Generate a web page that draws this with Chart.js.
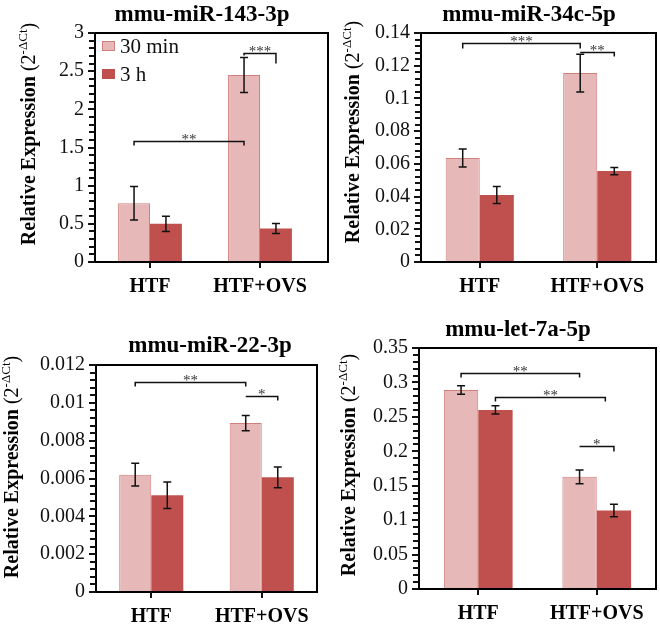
<!DOCTYPE html>
<html>
<head>
<meta charset="utf-8">
<script src="https://cdn.jsdelivr.net/npm/chart.js@4.4.1/dist/chart.umd.min.js"></script>
<style>
  body { margin: 0; background: #fff; }
  #wrap { position: relative; width: 660px; height: 626px; }
  canvas { position: absolute; }
</style>
</head>
<body>
<div id="wrap">
  <canvas id="c1" width="330" height="313" style="left:0;top:0"></canvas>
  <canvas id="c2" width="330" height="313" style="left:330px;top:0"></canvas>
  <canvas id="c3" width="330" height="313" style="left:0;top:313px"></canvas>
  <canvas id="c4" width="330" height="313" style="left:330px;top:313px"></canvas>
</div>
<script>
// categories and series
const categories = ['HTF', 'HTF+OVS']
const seriesNames = ['30 min', '3 h']
const titles = ['mmu-miR-143-3p', 'mmu-miR-34c-5p', 'mmu-miR-22-3p', 'mmu-let-7a-5p']

// mmu-miR-143-3p
const mir143_30min = [0.77, 2.45]
const mir143_3h = [0.50, 0.44]
const mir143_err30 = [0.22, 0.23]
const mir143_err3h = [0.10, 0.065]

// mmu-miR-34c-5p
const mir34c_30min = [0.0636, 0.1155]
const mir34c_3h = [0.041, 0.0556]
const mir34c_err30 = [0.0055, 0.0115]
const mir34c_err3h = [0.0052, 0.0022]

// mmu-miR-22-3p
const mir22_30min = [0.0062, 0.00893]
const mir22_3h = [0.00511, 0.00606]
const mir22_err30 = [0.0006, 0.0004]
const mir22_err3h = [0.0007, 0.00055]

// mmu-let-7a-5p
const let7a_30min = [0.289, 0.163]
const let7a_3h = [0.26, 0.114]
const let7a_err30 = [0.006, 0.01]
const let7a_err3h = [0.006, 0.009]

// y axis: max, major step, minor step
const yMax = [3, 0.14, 0.012, 0.35]
const yMajor = [0.5, 0.02, 0.002, 0.05]
const yMinor = [0.1, 0.004, 0.0004, 0.01]

// significance brackets: [category, series] at both ends, height in data units
const mir143_sig = [
  { from: [0, 0], to: [1, 0], y: 1.585, label: '**' },
  { from: [1, 0], to: [1, 1], y: 2.74, label: '***' }
]
const mir34c_sig = [
  { from: [0, 0], to: [1, 0], y: 0.1339, label: '***' },
  { from: [1, 0], to: [1, 1], y: 0.1284, label: '**' }
]
const mir22_sig = [
  { from: [0, 0], to: [1, 0], y: 0.0111, label: '**' },
  { from: [1, 0], to: [1, 1], y: 0.01038, label: '*' }
]
const let7a_sig = [
  { from: [0, 0], to: [1, 0], y: 0.3137, label: '**' },
  { from: [0, 1], to: [1, 1], y: 0.2788, label: '**' },
  { from: [1, 0], to: [1, 1], y: 0.2077, label: '*' }
]

const lightFill = '#e6b9b8'
const lightEdge = '#d07f7d'
const darkFill = '#c0504d'
const serif = "'Liberation Serif', 'Times New Roman', serif"

// bracket end drops in px (left, right) for each panel
const sigDrops = [
  [[4, 4], [2, 10]],
  [[5, 5], [0, 4]],
  [[4, 4], [0, 4]],
  [[4, 4], [4, 4], [0, 5]]
]
const sigShift = [[], [], [], [[0, 0], [0, -0.25], [0, 0]]]

const panels = [
  { id: 'c1', v30: mir143_30min, v3h: mir143_3h, e30: mir143_err30, e3h: mir143_err3h, sig: mir143_sig,
    yW: 95, padR: 15, padT: 33, xH: 51, titleX: 202, titleY: 15, yTitleX: 30, yTitleY: 134, frameR: 328, legend: true },
  { id: 'c2', v30: mir34c_30min, v3h: mir34c_3h, e30: mir34c_err30, e3h: mir34c_err3h, sig: mir34c_sig,
    yW: 91, padR: 4, padT: 33, xH: 51, titleX: 199, titleY: 15, yTitleX: 24, yTitleY: 132 },
  { id: 'c3', v30: mir22_30min, v3h: mir22_3h, e30: mir22_err30, e3h: mir22_err3h, sig: mir22_sig,
    yW: 96, padR: 13, padT: 52, xH: 34, titleX: 210, titleY: 33, yTitleX: 13, yTitleY: 154 },
  { id: 'c4', v30: let7a_30min, v3h: let7a_3h, e30: let7a_err30, e3h: let7a_err3h, sig: let7a_sig,
    yW: 89, padR: 4, padT: 35, xH: 37, titleX: 188, titleY: 17, yTitleX: 20, yTitleY: 152 }
]

function isMajor(v, step) {
  return Math.abs(v / step - Math.round(v / step)) < 1e-6
}

// frame, axis ticks, title, y title, error bars, brackets, legend
const decorPlugin = {
  id: 'decor',
  afterDatasetsDraw(chart) {
    const p = chart.options.plugins.decor
    const ctx = chart.ctx
    const area = chart.chartArea
    const ys = chart.scales.y
    const xs = chart.scales.x
    const errs = [p.panel.e30, p.panel.e3h]
    ctx.save()

    // error bars
    ctx.strokeStyle = '#111'
    ctx.lineWidth = 1.5
    for (let d = 0; d < 2; d++) {
      const meta = chart.getDatasetMeta(d)
      meta.data.forEach((bar, j) => {
        const v = chart.data.datasets[d].data[j]
        const yTop = ys.getPixelForValue(v + errs[d][j])
        const yBot = ys.getPixelForValue(v - errs[d][j])
        ctx.beginPath()
        ctx.moveTo(bar.x, yTop); ctx.lineTo(bar.x, yBot)
        ctx.moveTo(bar.x - 4, yTop); ctx.lineTo(bar.x + 4, yTop)
        ctx.moveTo(bar.x - 4, yBot); ctx.lineTo(bar.x + 4, yBot)
        ctx.stroke()
      })
    }

    // significance brackets
    p.panel.sig.forEach((b, k) => {
      const drops = p.drops[k]
      const shift = p.shift[k] || [0, 0]
      const b1 = chart.getDatasetMeta(b.from[1]).data[b.from[0]]
      const b2 = chart.getDatasetMeta(b.to[1]).data[b.to[0]]
      const x1 = b1.x + shift[0] * b1.width
      const x2 = b2.x + shift[1] * b2.width
      const y = Math.round(ys.getPixelForValue(b.y)) + 0.5
      ctx.strokeStyle = '#111'
      ctx.lineWidth = 1.5
      ctx.beginPath()
      ctx.moveTo(x1, y + drops[0]); ctx.lineTo(x1, y); ctx.lineTo(x2, y); ctx.lineTo(x2, y + drops[1])
      ctx.stroke()
      ctx.fillStyle = '#333'
      ctx.font = '15px ' + serif
      ctx.textAlign = 'center'
      ctx.textBaseline = 'alphabetic'
      ctx.fillText(b.label, (x1 + x2) / 2, y + 2)
    })

    // plot frame
    const right = p.panel.frameR || area.right
    ctx.strokeStyle = '#000'
    ctx.lineWidth = 2
    ctx.strokeRect(area.left, area.top, right - area.left, area.bottom - area.top)

    // y tick marks (major and minor) and x tick marks
    ctx.strokeStyle = '#111'
    ctx.lineWidth = 2
    ctx.beginPath()
    ys.ticks.forEach(t => {
      const y = Math.round(ys.getPixelForValue(t.value))
      const len = isMajor(t.value, yMajor[p.idx]) ? 7 : 6
      ctx.moveTo(area.left - len, y); ctx.lineTo(area.left, y)
    })
    categories.forEach((c, j) => {
      const x = Math.round(xs.getPixelForValue(j))
      ctx.moveTo(x, area.bottom); ctx.lineTo(x, area.bottom + 6)
    })
    ctx.stroke()

    // title
    ctx.fillStyle = '#000'
    ctx.font = 'bold 23px ' + serif
    ctx.textAlign = 'center'
    ctx.textBaseline = 'middle'
    ctx.fillText(p.title, p.panel.titleX, p.panel.titleY)

    // y axis title with superscript
    ctx.translate(p.panel.yTitleX, p.panel.yTitleY)
    ctx.rotate(-Math.PI / 2)
    const parts = [
      { t: 'Relative Expression ', f: 'bold 20px ' + serif, dy: 0 },
      { t: '(2', f: '20px ' + serif, dy: 0 },
      { t: '-\u0394Ct', f: '13px ' + serif, dy: -6 },
      { t: ')', f: '20px ' + serif, dy: 0 }
    ]
    let total = 0
    parts.forEach(pt => { ctx.font = pt.f; pt.w = ctx.measureText(pt.t).width; total += pt.w })
    let x = -total / 2
    ctx.textAlign = 'left'
    parts.forEach(pt => {
      ctx.font = pt.f
      ctx.fillText(pt.t, x, pt.dy)
      x += pt.w
    })
    ctx.restore()

    // legend
    if (p.panel.legend) {
      ctx.save()
      const items = [[lightFill, lightEdge], [darkFill, darkFill]]
      ctx.font = '21px ' + serif
      ctx.textBaseline = 'middle'
      ctx.textAlign = 'left'
      items.forEach((it, i) => {
        const top = 41 + i * 28
        ctx.fillStyle = it[0]
        ctx.fillRect(102, top, 13, 10)
        ctx.strokeStyle = it[1]
        ctx.lineWidth = 1
        ctx.strokeRect(102.5, top + 0.5, 12, 9)
        ctx.fillStyle = '#111'
        ctx.fillText(seriesNames[i], 120, top + 6)
      })
      ctx.restore()
    }
  }
}

panels.forEach((panel, i) => {
  new Chart(document.getElementById(panel.id), {
    type: 'bar',
    data: {
      labels: categories,
      datasets: [
        { label: seriesNames[0], data: panel.v30, backgroundColor: lightFill, borderColor: lightEdge, borderWidth: 1,
          categoryPercentage: 0.58, barPercentage: 1 },
        { label: seriesNames[1], data: panel.v3h, backgroundColor: darkFill, borderColor: darkFill, borderWidth: 0,
          categoryPercentage: 0.58, barPercentage: 1 }
      ]
    },
    options: {
      responsive: false,
      animation: false,
      devicePixelRatio: 1,
      layout: { padding: { top: panel.padT, right: panel.padR, left: 0, bottom: 0 } },
      plugins: {
        legend: { display: false },
        tooltip: { enabled: false },
        decor: { panel: panel, idx: i, title: titles[i], drops: sigDrops[i], shift: sigShift[i] }
      },
      scales: {
        x: {
          grid: { display: false, drawTicks: true, tickLength: 5 },
          border: { display: true, color: '#000', width: 2 },
          ticks: { color: '#000', padding: 8, font: { family: serif, size: 20, weight: 'bold' } },
          afterFit: s => { s.height = panel.xH }
        },
        y: {
          min: 0,
          max: yMax[i],
          grid: { display: false, drawTicks: true, tickLength: 5 },
          border: { display: true, color: '#000', width: 2 },
          ticks: {
            stepSize: yMinor[i],
            autoSkip: false,
            color: '#111',
            padding: 6,
            font: { family: serif, size: 20 },
            callback: v => isMajor(v, yMajor[i]) ? String(parseFloat(v.toFixed(6))) : ''
          },
          afterFit: s => { s.width = panel.yW }
        }
      }
    },
    plugins: [decorPlugin]
  })
})
</script>
</body>
</html>
